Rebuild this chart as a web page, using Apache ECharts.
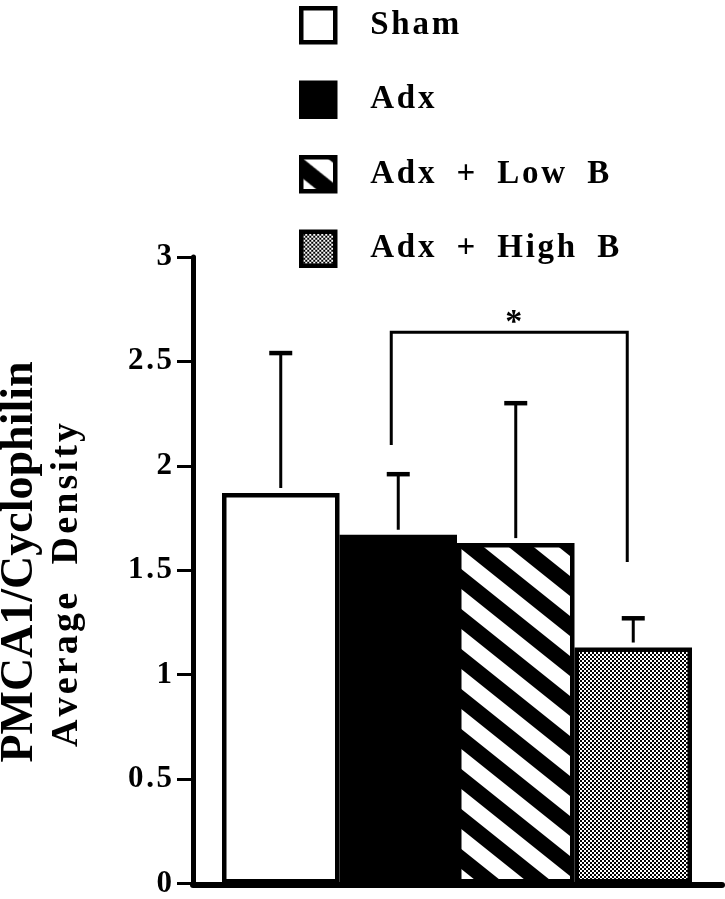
<!DOCTYPE html>
<html>
<head>
<meta charset="utf-8">
<title>PMCA1 / Cyclophilin</title>
<script src="https://cdn.jsdelivr.net/npm/echarts@6/dist/echarts.min.js"></script>
<style>
  html, body { margin: 0; padding: 0; background: #fff; }
  #chart { width: 725px; height: 899px; }
</style>
</head>
<body>
<div id="chart"></div>
<script>
// data
const categories = ['Sham', 'Adx', 'Adx + Low B', 'Adx + High B']
const means = [1.87, 1.67, 1.63, 1.13]
const errUpper = [2.54, 1.96, 2.30, 1.27]
const yTicks = [0, 0.5, 1, 1.5, 2, 2.5, 3]
// significance bracket: from Adx to Adx + High B
const sigPair = [1, 3]
const sigLevels = [2.10, 2.64, 1.54] // left end, top, right end
const sigMark = '*'

const serif = '"Liberation Serif", "DejaVu Serif", serif'

// hair space between characters, the print uses loose tracking
function spread (s) {
  return s.split('').join('\u200A')
}

// diagonal stripes (top-left to bottom-right)
function stripePattern () {
  const w = 50
  const h = 40
  const c = document.createElement('canvas')
  c.width = w
  c.height = h
  const ctx = c.getContext('2d')
  ctx.fillStyle = '#fff'
  ctx.fillRect(0, 0, w, h)
  ctx.fillStyle = '#000'
  for (let k = -1; k <= 1; k++) {
    ctx.beginPath()
    ctx.moveTo(0, k * h)
    ctx.lineTo(w, k * h + h)
    ctx.lineTo(w, k * h + h + h / 2)
    ctx.lineTo(0, k * h + h / 2)
    ctx.closePath()
    ctx.fill()
  }
  return { image: c, repeat: 'repeat' }
}

// fine dotted screen
function dotPattern () {
  const c = document.createElement('canvas')
  c.width = 4
  c.height = 4
  const ctx = c.getContext('2d')
  ctx.fillStyle = '#fff'
  ctx.fillRect(0, 0, 4, 4)
  ctx.fillStyle = '#000'
  ctx.fillRect(0, 0, 2, 2)
  ctx.fillRect(2, 2, 2, 2)
  return { image: c, repeat: 'repeat' }
}

const fills = ['#fff', '#000', stripePattern(), dotPattern()]

const chart = echarts.init(document.getElementById('chart'))

const barSeries = categories.map((name, i) => ({
  name: name,
  type: 'bar',
  stack: 'all',
  barCategoryGap: '0%',
  data: means.map((v, j) => (j === i ? v : '-')),
  itemStyle: {
    color: fills[i],
    borderColor: '#000',
    borderWidth: 4.5
  },
  z: 2
}))

const option = {
  animation: false,
  backgroundColor: '#fff',
  grid: [
    { left: 222, right: 33, top: 257, bottom: 14 },
    { left: 193, right: 3, top: 257, bottom: 14 }
  ],
  legend: {
    orient: 'vertical',
    left: 299,
    top: 6,
    padding: 0,
    itemWidth: 34,
    itemHeight: 34,
    itemGap: 36,
    icon: 'rect',
    selectedMode: false,
    data: categories,
    itemStyle: { borderColor: '#000', borderWidth: 4.5 },
    formatter: name => spread(name).split(' ').join('  '),
    textStyle: {
      fontFamily: serif,
      fontWeight: 'bold',
      fontSize: 33,
      lineHeight: 34,
      color: '#000',
      padding: [0, 0, 0, 30]
    }
  },
  graphic: [
    {
      type: 'text',
      x: 20,
      y: 562,
      rotation: Math.PI / 2,
      style: {
        text: 'PMCA1/Cyclophilin',
        font: 'bold 46px ' + serif,
        fill: '#000',
        textAlign: 'center',
        textVerticalAlign: 'middle'
      }
    },
    {
      type: 'text',
      x: 67,
      y: 585,
      rotation: Math.PI / 2,
      style: {
        text: spread('Average') + '   ' + spread('Density'),
        font: 'bold 38px ' + serif,
        fill: '#000',
        textAlign: 'center',
        textVerticalAlign: 'middle'
      }
    }
  ],
  xAxis: [
    {
      type: 'category',
      gridIndex: 0,
      data: categories,
      axisLine: { show: false },
      axisTick: { show: false },
      axisLabel: { show: false },
      splitLine: { show: false }
    },
    {
      type: 'value',
      gridIndex: 1,
      axisLine: { show: true, lineStyle: { color: '#000', width: 6 } },
      axisTick: { show: false },
      axisLabel: { show: false },
      splitLine: { show: false }
    }
  ],
  yAxis: [
    {
      type: 'value',
      gridIndex: 0,
      min: yTicks[0],
      max: yTicks[yTicks.length - 1],
      interval: yTicks[1] - yTicks[0],
      offset: 29,
      axisLine: { show: true, lineStyle: { color: '#000', width: 5 } },
      axisTick: { show: true, length: 16, lineStyle: { color: '#000', width: 3 } },
      axisLabel: {
        color: '#000',
        fontFamily: serif,
        fontWeight: 'bold',
        fontSize: 31,
        margin: 21,
        formatter: v => spread(String(v))
      },
      splitLine: { show: false }
    },
    { type: 'value', gridIndex: 1, show: false }
  ],
  series: barSeries.concat([
    {
      name: 'error',
      type: 'custom',
      xAxisIndex: 0,
      yAxisIndex: 0,
      z: 5,
      data: means.map((m, i) => [i, m, errUpper[i]]),
      renderItem: function (params, api) {
        const base = api.coord([api.value(0), api.value(1)])
        const top = api.coord([api.value(0), api.value(2)])
        return {
          type: 'group',
          children: [
            {
              type: 'line',
              shape: { x1: top[0], y1: base[1] - 5, x2: top[0], y2: top[1] },
              style: { stroke: '#000', lineWidth: 3 }
            },
            {
              type: 'line',
              shape: { x1: top[0] - 11.5, y1: top[1], x2: top[0] + 11.5, y2: top[1] },
              style: { stroke: '#000', lineWidth: 4.5 }
            }
          ]
        }
      }
    },
    {
      name: 'significance',
      type: 'custom',
      xAxisIndex: 0,
      yAxisIndex: 0,
      z: 5,
      data: [[sigPair[0], sigPair[1], sigLevels[0], sigLevels[1], sigLevels[2]]],
      renderItem: function (params, api) {
        const a = api.coord([api.value(0), api.value(2)])
        const b = api.coord([api.value(0), api.value(3)])
        const c = api.coord([api.value(1), api.value(3)])
        const d = api.coord([api.value(1), api.value(4)])
        return {
          type: 'group',
          children: [
            {
              type: 'polyline',
              shape: { points: [[a[0] - 7, a[1]], [b[0] - 7, b[1]], [c[0] - 6, c[1]], [d[0] - 6, d[1]]] },
              style: { stroke: '#000', lineWidth: 3, fill: null }
            },
            {
              type: 'text',
              x: (b[0] + c[0]) / 2 - 2,
              y: b[1] + 8,
              style: {
                text: sigMark,
                font: 'bold 34px ' + serif,
                fill: '#000',
                textAlign: 'center',
                textVerticalAlign: 'bottom'
              }
            }
          ]
        }
      }
    }
  ])
}

chart.setOption(option)
</script>
</body>
</html>
